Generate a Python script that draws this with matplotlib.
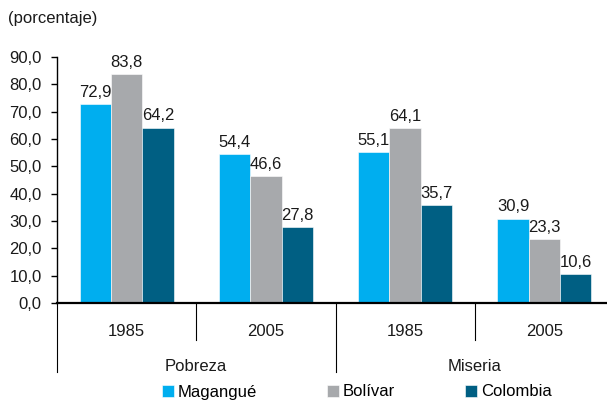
import numpy as np
from matplotlib import pyplot as plt
from matplotlib.transforms import blended_transform_factory

plt.rcParams['font.family'] = ['Liberation Sans', 'DejaVu Sans']

# data
groups = ['Pobreza', 'Miseria']
years = ['1985', '2005', '1985', '2005']
magangue = [72.9, 54.4, 55.1, 30.9]
bolivar = [83.8, 46.6, 64.1, 23.3]
colombia = [64.2, 27.8, 35.7, 10.6]
series = ['Magangué', 'Bolívar', 'Colombia']
colors = ['#00AEEF', '#A7A9AC', '#005F83']

def fmt(v):
    return ('%.1f' % v).replace('.', ',')

fs = 12
txt = '#1a1a1a'

fig = plt.figure(figsize=(6.07, 4.0), dpi=100)
ax = fig.add_axes([57/607, 97/400, 557/607, 246/400])

x = np.arange(len(years))
w = 0.225
for i, (vals, c, lab) in enumerate(zip([magangue, bolivar, colombia], colors, series)):
    pos = x + (i - 1) * w
    ax.bar(pos, vals, w, color=c, label=lab, edgecolor='white', linewidth=0.4)
    for p, v in zip(pos, vals):
        ax.text(p, v + 1.5, fmt(v), ha='center', va='bottom', fontsize=fs, color=txt)

ax.set_xlim(-0.5, 3.5)
ax.set_ylim(0, 90)
ax.set_yticks(np.arange(0, 91, 10))
ax.set_yticklabels([fmt(v) for v in np.arange(0, 91, 10)], fontsize=fs, color=txt)
ax.tick_params(axis='y', length=4, width=1, pad=7)
ax.set_xticks([])
for s in ['top', 'right']:
    ax.spines[s].set_visible(False)
ax.spines['bottom'].set_linewidth(1.6)
ax.spines['left'].set_linewidth(1.0)

tr = blended_transform_factory(ax.transData, ax.transAxes)
# separators
for xs in [0.5, 2.5]:
    ax.plot([xs, xs], [0, -0.15], color='black', lw=0.8, transform=tr, clip_on=False)
for xs in [-0.5, 1.5]:
    ax.plot([xs, xs], [0, -0.28], color='black', lw=0.8, transform=tr, clip_on=False)
for xi, y in zip(x, years):
    ax.text(xi, -0.115, y, ha='center', va='center', fontsize=fs, transform=tr, color=txt)
for xi, g in zip([0.5, 2.5], groups):
    ax.text(xi, -0.258, g, ha='center', va='center', fontsize=fs, transform=tr, color=txt)

fig.text(8/607, 1 - 18/400, '(porcentaje)', ha='left', va='center', fontsize=fs, color=txt)

fig.legend(loc='center', bbox_to_anchor=(0.588, 0.02), ncol=3, frameon=False,
           fontsize=fs, handlelength=0.7, handleheight=0.7, handletextpad=0.25,
           columnspacing=4.2, borderpad=0)

fig.savefig('out.png', dpi=100)
